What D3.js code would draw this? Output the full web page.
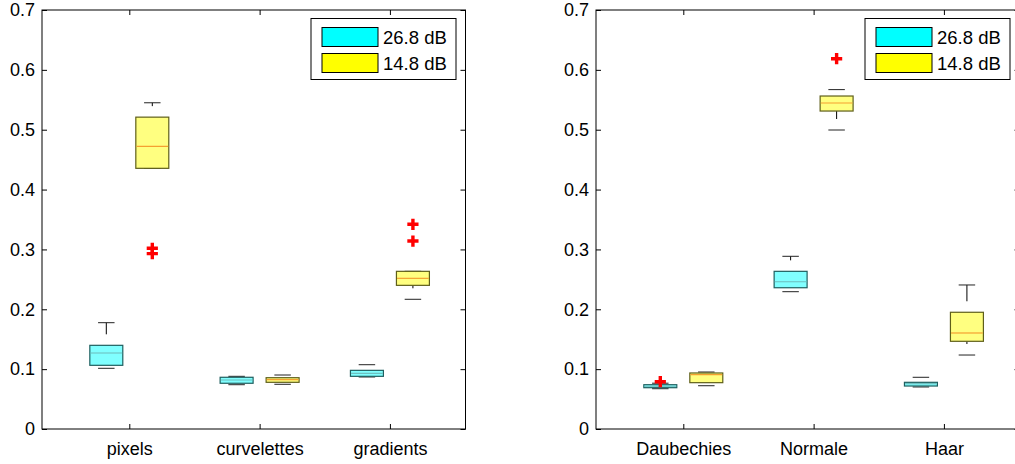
<!DOCTYPE html>
<html>
<head>
<meta charset="utf-8">
<script src="https://cdn.jsdelivr.net/npm/d3@7"></script>
<style>
  html, body { margin: 0; padding: 0; background: #fff; }
  svg { display: block; font-family: "Liberation Sans", Arial, sans-serif; }
</style>
</head>
<body>
<svg id="chart" width="1015" height="464"></svg>
<script>
// ---- Data ----
const seriesNames = ["26.8 dB", "14.8 dB"];
const categoriesLeft = ["pixels", "curvelettes", "gradients"];
const categoriesRight = ["Daubechies", "Normale", "Haar"];
const yTicks = [0, 0.1, 0.2, 0.3, 0.4, 0.5, 0.6, 0.7];

// stats: [lower adjacent, q1, median, q3, upper adjacent]
const leftHigh = [
  [0.1014, 0.1064, 0.127, 0.1398, 0.1776],
  [0.074, 0.0764, 0.0819, 0.0864, 0.088],
  [0.0869, 0.088, 0.093, 0.098, 0.1074]
];
const leftLow = [
  [0.4355, 0.4355, 0.472, 0.521, 0.545],
  [0.0747, 0.078, 0.0824, 0.0857, 0.0902],
  [0.2167, 0.240, 0.2517, 0.2634, 0.2634]
];
const leftHighOutliers = [[], [], []];
const leftLowOutliers = [[0.302, 0.293], [], [0.342, 0.314]];

const rightHigh = [
  [0.0673, 0.069, 0.0715, 0.074, 0.0765],
  [0.2294, 0.236, 0.246, 0.2634, 0.2885],
  [0.0702, 0.0718, 0.0757, 0.078, 0.0864]
];
const rightLow = [
  [0.0723, 0.0774, 0.0907, 0.0936, 0.0952],
  [0.4995, 0.5312, 0.5446, 0.5563, 0.567],
  [0.1236, 0.1465, 0.1604, 0.195, 0.2406]
];
const rightHighOutliers = [[0.079], [], []];
const rightLowOutliers = [[], [0.6186], []];

// ---- Styles ----
const styles = [
  { fill: "#80ffff", stroke: "#1f5f5f", median: "#6cbcbc", legend: "#00ffff" },
  { fill: "#ffff80", stroke: "#5f5f1a", median: "#f5a030", legend: "#ffff00" }
];

const svg = d3.select("#chart");
const plotTop = 10, plotBottom = 429;
const y = d3.scaleLinear().domain([0, 0.7]).range([plotBottom, plotTop]);

function drawPanel(x0, x1, categories, statsList, outlierList) {
  const g = svg.append("g");
  const x = d3.scaleLinear().domain([0.33, 3.58]).range([x0, x1]);
  const tickPos = categories.map((c, i) => i + 1);
  const offset = 0.1765, bw = 0.253;

  // boxes
  statsList.forEach((stats, si) => {
    const st = styles[si];
    const off = si === 0 ? -offset : offset;
    stats.forEach((s, ci) => {
      const cx = x(ci + 1 + off);
      const w = x(bw) - x(0);
      const [lo, q1, med, q3, hi] = s;
      // whiskers (dashed, drawn from low to high value)
      [[lo, q1], [q3, hi]].forEach(([a, b]) => {
        if (b - a <= 0) return;
        g.append("line")
          .attr("x1", cx).attr("x2", cx)
          .attr("y1", y(a)).attr("y2", y(b))
          .attr("stroke", "#000").attr("stroke-width", 1)
          .attr("stroke-dasharray", "30 11").attr("stroke-dashoffset", 30);
      });
      // caps
      [lo, hi].forEach(v => {
        g.append("line")
          .attr("x1", cx - w / 4).attr("x2", cx + w / 4)
          .attr("y1", y(v)).attr("y2", y(v))
          .attr("stroke", "#222").attr("stroke-width", 1);
      });
      // box
      g.append("rect")
        .attr("x", cx - w / 2).attr("width", w)
        .attr("y", y(q3)).attr("height", Math.max(1, y(q1) - y(q3)))
        .attr("fill", st.fill).attr("stroke", st.stroke).attr("stroke-width", 1.2);
      g.append("line")
        .attr("x1", cx - w / 2 + 0.6).attr("x2", cx + w / 2 - 0.6)
        .attr("y1", y(med)).attr("y2", y(med))
        .attr("stroke", st.median).attr("stroke-width", 1.2);
      // outliers
      outlierList[si][ci].forEach(v => {
        const py = y(v), r = 5.6;
        g.append("path")
          .attr("d", `M${cx - r},${py}H${cx + r}M${cx},${py - r}V${py + r}`)
          .attr("stroke", "#ff0000").attr("stroke-width", 3.4).attr("fill", "none");
      });
    });
  });

  // frame
  g.append("rect").attr("x", x0).attr("y", plotTop)
    .attr("width", x1 - x0).attr("height", plotBottom - plotTop)
    .attr("fill", "none").attr("stroke", "#000").attr("stroke-width", 1);

  const fmt = d => d === 0 ? "0" : d3.format(".1f")(d);
  const yAxis = g.append("g").attr("transform", `translate(${x0},0)`)
    .call(d3.axisLeft(y).tickValues(yTicks).tickFormat(fmt).tickSizeInner(-5).tickSizeOuter(0).tickPadding(7));
  const yAxisR = g.append("g").attr("transform", `translate(${x1},0)`)
    .call(d3.axisRight(y).tickValues(yTicks).tickFormat("").tickSizeInner(-5).tickSizeOuter(0));
  const xAxis = g.append("g").attr("transform", `translate(0,${plotBottom})`)
    .call(d3.axisBottom(x).tickValues(tickPos).tickFormat((d, i) => categories[i]).tickSizeInner(-5).tickSizeOuter(0).tickPadding(13));
  const xAxisT = g.append("g").attr("transform", `translate(0,${plotTop})`)
    .call(d3.axisTop(x).tickValues(tickPos).tickFormat("").tickSizeInner(-5).tickSizeOuter(0));
  [yAxis, yAxisR, xAxis, xAxisT].forEach(a => {
    a.select(".domain").remove();
    a.selectAll("line").attr("stroke", "#000");
    a.selectAll("text").attr("font-size", 18).attr("fill", "#000")
      .attr("font-family", "'Liberation Sans', Arial, sans-serif");
  });

  // legend
  const lw = 145, lh = 61;
  const lx = x1 - 9.5 - lw, ly = 18.5;
  const lg = g.append("g");
  lg.append("rect").attr("x", lx).attr("y", ly).attr("width", lw).attr("height", lh)
    .attr("fill", "#fff").attr("stroke", "#000").attr("stroke-width", 1);
  seriesNames.forEach((name, i) => {
    const sy = ly + 9 + i * 26;
    lg.append("rect").attr("x", lx + 11).attr("y", sy).attr("width", 56).attr("height", 19)
      .attr("fill", styles[i].legend).attr("stroke", "#000").attr("stroke-width", 1);
    lg.append("text").attr("x", lx + 72).attr("y", sy + 16)
      .attr("font-size", 18.5).attr("fill", "#000").text(name);
  });
}

drawPanel(42, 465.5, categoriesLeft, [leftHigh, leftLow], [leftHighOutliers, leftLowOutliers]);
drawPanel(596, 1019.5, categoriesRight, [rightHigh, rightLow], [rightHighOutliers, rightLowOutliers]);
</script>
</body>
</html>
